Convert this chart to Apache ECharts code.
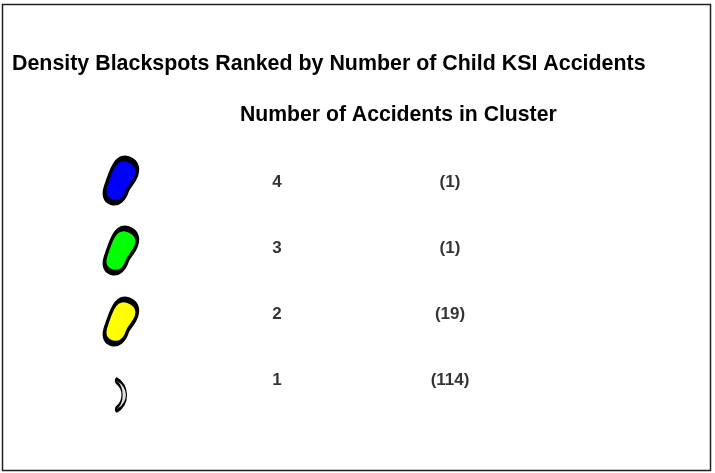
<!DOCTYPE html>
<html><head><meta charset="utf-8">
<script src="https://cdn.jsdelivr.net/npm/echarts@6/dist/echarts.min.js"></script>
<style>html,body{margin:0;padding:0;background:#fff}#c{width:715px;height:473px}</style>
</head><body><div id="c"></div>
<script>
// Data
const levels = ['4', '3', '2', '1'];              // number of accidents in cluster
const clusterCounts = [1, 1, 19, 114];            // number of clusters in each class
const fillColors = ['#0000ff', '#00ff00', '#ffff00', '#e0e0e0'];
const titleText = 'Density Blackspots Ranked by Number of Child KSI Accidents';
const subtitleText = 'Number of Accidents in Cluster';

// Layout (not data)
const COL_ICON = 121, COL_LEVEL = 277, COL_COUNT = 450;
const FONT = '"Liberation Sans", Arial, sans-serif';
const bean = 'path://M10 0 C16 0 20 5 20 14 C20 22 17 27 17 33 C17 41 15 50 8 50 C3 50 0 45 0 36 C0 26 0 18 1 12 C2 5 5 0 10 0 Z';
const crescent = 'path://M1 0 C17 7 17 25 1 32 C-1 32 -1 30 0 29 C10 23 10 9 0 3 C-1 2 -1 0 1 0 Z';
const iconOffsets = [[0, -1], [0, 3], [0, 8], [0, 15]];

const chart = echarts.init(document.getElementById('c'));
chart.setOption({
  animation: false,
  title: [
    { text: titleText, left: 7, top: 49, textStyle: { fontFamily: FONT, fontSize: 21.4, fontWeight: 'bold', color: '#000' } },
    { text: subtitleText, left: 235, top: 100, textStyle: { fontFamily: FONT, fontSize: 21.2, fontWeight: 'bold', color: '#000' } }
  ],
  graphic: [{ type: 'rect', shape: { x: 2.5, y: 4.5, width: 708, height: 466 }, style: { fill: 'none', stroke: '#222', lineWidth: 1.5 } }],
  grid: { left: 0, right: 0, top: 149, bottom: 60 },
  xAxis: { type: 'value', min: 0, max: 715, show: false },
  yAxis: { type: 'category', data: levels, show: false, inverse: true },
  series: [
    {
      type: 'scatter',
      data: levels.map((l, i) => ({
        value: [COL_ICON, l],
        symbol: i === 3 ? crescent : bean,
        symbolSize: i === 3 ? [11, 32] : [26, 46],
        symbolRotate: i === 3 ? 0 : -18,
        symbolOffset: iconOffsets[i],
        itemStyle: { color: fillColors[i], borderColor: '#000', borderWidth: i === 3 ? 2 : 4.5, opacity: 1 }
      })),
      silent: true
    },
    {
      type: 'scatter',
      symbolSize: 0,
      data: levels.map(l => [COL_LEVEL, l]),
      label: { show: true, position: 'inside', formatter: p => p.value[1], fontFamily: FONT, fontSize: 17, fontWeight: 'bold', color: '#000' },
      silent: true
    },
    {
      type: 'scatter',
      symbolSize: 0,
      data: levels.map((l, i) => [COL_COUNT, l]),
      label: { show: true, position: 'inside', formatter: p => '(' + clusterCounts[p.dataIndex] + ')', fontFamily: FONT, fontSize: 17, fontWeight: 'bold', color: '#000' },
      silent: true
    }
  ]
});
</script></body></html>
